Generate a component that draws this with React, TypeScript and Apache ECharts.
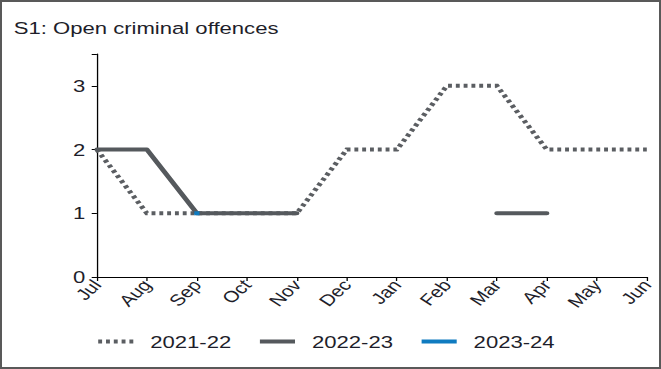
import React, { useEffect, useRef } from "react";
import * as echarts from "echarts";

const months = ["Jul", "Aug", "Sep", "Oct", "Nov", "Dec", "Jan", "Feb", "Mar", "Apr", "May", "Jun"];
const s2122 = [2, 1, 1, 1, 1, 2, 2, 3, 3, 2, 2, 2];
const s2223: (number | null)[] = [2, 2, 1, 1, 1, null, null, null, 1, 1, null, null];
const s2324: (number | null)[] = [null, null, 1, null, null, null, null, null, null, null, null, null];
const yTicks = [0, 1, 2, 3];
const title = "S1: Open criminal offences";

const STRETCH = 1.3;
const INNER_W = 657 / STRETCH;

const dottedIcon = "path://M0,0h3v4h-3zM6,0h3v4h-3zM12,0h3v4h-3zM18,0h3v4h-3zM24,0h3v4h-3z";
const solidIcon = "path://M0,0h27v4h-27z";

export default function App() {
  const ref = useRef<HTMLDivElement>(null);
  useEffect(() => {
    if (!ref.current) return;
    const chart = echarts.init(ref.current, undefined, { renderer: "svg" });
    const font = "'Liberation Sans', Arial, sans-serif";
    chart.setOption({
      animation: false,
      title: {
        text: title,
        left: 4,
        top: 12,
        textStyle: { fontFamily: font, fontSize: 17, fontWeight: "normal", color: "#1e1e2a" },
      },
      grid: { left: 73, right: 9, top: 52, bottom: 90 },
      legend: {
        top: 326,
        left: 69,
        itemWidth: 31,
        itemHeight: 4,
        itemGap: 22,
        textStyle: { fontFamily: font, fontSize: 17, color: "#1e1e2a", padding: [0, 0, 0, 6] },
        data: [
          { name: "2021-22", icon: dottedIcon },
          { name: "2022-23", icon: solidIcon },
          { name: "2023-24", icon: solidIcon },
        ],
      },
      xAxis: {
        type: "category",
        data: months,
        boundaryGap: false,
        axisLine: { lineStyle: { color: "#000", width: 1 } },
        axisTick: { alignWithLabel: true, length: 4, lineStyle: { color: "#000" } },
        axisLabel: {
          rotate: 50,
          interval: 0,
          fontFamily: font,
          fontSize: 16,
          color: "#1e1e2a",
          margin: 5,
        },
        splitLine: { show: false },
      },
      yAxis: {
        type: "value",
        min: 0,
        max: 3.5,
        interval: 1,
        axisLine: { show: true, lineStyle: { color: "#000", width: 1 } },
        axisTick: { show: true, length: 4, lineStyle: { color: "#000" } },
        axisLabel: {
          fontFamily: font,
          fontSize: 17,
          color: "#1e1e2a",
          margin: 9,
          formatter: (v: number) => (yTicks.includes(v) ? String(v) : ""),
        },
        splitLine: { show: false },
      },
      series: [
        {
          name: "2021-22",
          type: "line",
          data: s2122,
          symbol: "none",
          color: "#5b5e62",
          lineStyle: { color: "#5b5e62", width: 4, type: [3, 3], cap: "butt", join: "miter" },
        },
        {
          name: "2022-23",
          type: "line",
          data: s2223,
          symbol: "none",
          connectNulls: false,
          color: "#55595d",
          lineStyle: { color: "#55595d", width: 4, cap: "round", join: "round" },
        },
        {
          name: "2023-24",
          type: "line",
          data: s2324,
          symbol: "rect",
          symbolSize: 4,
          showSymbol: true,
          color: "#0f7bc0",
          itemStyle: { color: "#0f7bc0" },
          lineStyle: { color: "#0f7bc0", width: 4 },
        },
      ],
    });
    return () => chart.dispose();
  }, []);
  return (
    <div
      style={{
        position: "fixed",
        left: 0,
        top: 0,
        width: 661,
        height: 369,
        boxSizing: "border-box",
        border: "2px solid #595959",
        background: "#fff",
        overflow: "hidden",
      }}
    >
      <div
        ref={ref}
        style={{
          width: INNER_W,
          height: 365,
          transform: `scaleX(${STRETCH})`,
          transformOrigin: "0 0",
        }}
      />
    </div>
  );
}
